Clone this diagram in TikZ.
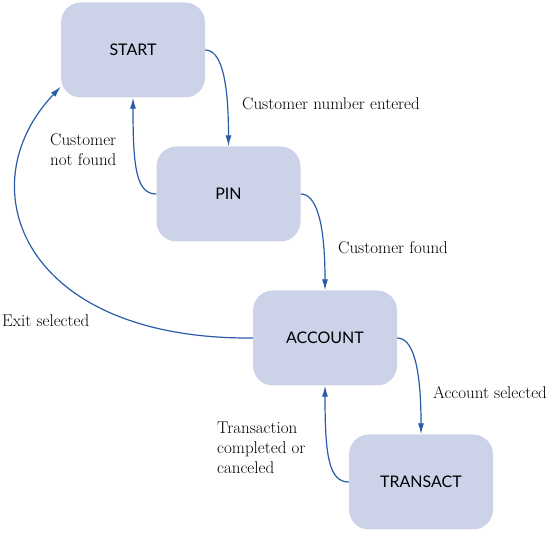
\documentclass[tikz,border=0pt]{standalone}
\usepackage{fontspec}
\usepackage{xcolor}
\usepackage{tikz}
\usetikzlibrary{arrows.meta}
\newfontfamily\boxfont{Lato}
\definecolor{stB1}{HTML}{CCD2E8}
\definecolor{stB2}{HTML}{2A5BA8}
\tikzset{
  stbox/.style={rectangle,rounded corners=20pt,fill=stB1,minimum width=144pt,minimum height=95pt,inner sep=0pt,font=\boxfont\fontsize{16}{19}\selectfont},
  trans/.style={draw=stB2,line width=1.2pt,-{Latex[length=11pt,width=6pt]}},
  lbl/.style={anchor=west,align=left,inner sep=0pt,font=\fontsize{17}{20}\selectfont},
}

\begin{document}
\begin{tikzpicture}[x=1pt,y=1pt]
\useasboundingbox (0,0) rectangle (551,540);
% states
\node[stbox] (start) at (133,490) {START};
\node[stbox] (pin) at (228.5,346) {PIN};
\node[stbox] (account) at (325,202) {ACCOUNT};
\node[stbox] (transact) at (421,58) {TRANSACT};
% transitions
\draw[trans] (start.east) .. controls +(15,0) and +(0,70) .. (pin.north);
\draw[trans] (pin.east) .. controls +(15,0) and +(0,70) .. (account.north);
\draw[trans] (account.east) .. controls +(15,0) and +(0,70) .. (transact.north);
\draw[trans] (pin.west) .. controls +(-20,0) and +(0,-70) .. (start.south);
\draw[trans] (transact.west) .. controls +(-20,0) and +(0,-70) .. (account.south);
\draw[trans] (account.west) .. controls +(-230,-2) and +(-95,-100) .. ([yshift=11pt]start.south west);
% labels
\node[lbl] (l1) at (242,436) {Customer number entered};
\node[lbl] (l2) at (50,390) {Customer\\not found};
\node[lbl] (l3) at (338,292) {Customer found};
\node[lbl] (l4) at (2,219) {Exit selected};
\node[lbl] (l5) at (433,147) {Account selected};
\node[lbl] (l6) at (217,92) {Transaction\\completed or\\canceled};
\end{tikzpicture}
\end{document}
